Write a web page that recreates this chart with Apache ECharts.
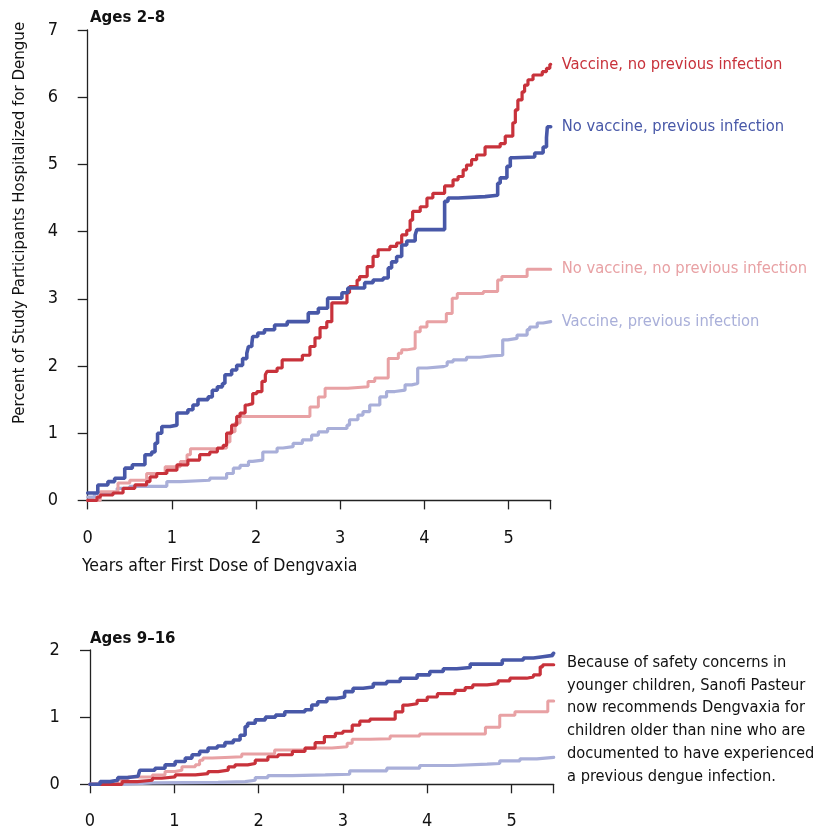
<!DOCTYPE html>
<html>
<head>
<meta charset="utf-8">
<script src="https://cdn.jsdelivr.net/npm/echarts@6/dist/echarts.min.js"></script>
<style>
  html, body { margin: 0; padding: 0; background: #fff; }
  #chart { width: 822px; height: 833px; }
</style>
</head>
<body>
<div id="chart"></div>
<script>
// Ages 2-8: [years, percent] where the step curve jumps
const young_vaccineNoPrev = [[0,0],[0.11,0.05],[0.15,0.08],[0.30,0.11],[0.42,0.18],[0.56,0.23],[0.70,0.28],[0.74,0.35],[0.82,0.40],[0.94,0.45],[1.06,0.53],[1.19,0.60],[1.33,0.68],[1.45,0.72],[1.54,0.78],[1.61,0.82],[1.65,1.00],[1.71,1.12],[1.77,1.25],[1.81,1.30],[1.87,1.42],[1.90,1.44],[1.96,1.59],[2.01,1.62],[2.07,1.77],[2.11,1.87],[2.13,1.92],[2.25,1.97],[2.31,2.09],[2.55,2.16],[2.64,2.29],[2.70,2.42],[2.76,2.57],[2.84,2.66],[2.90,2.94],[3.08,3.09],[3.11,3.18],[3.20,3.28],[3.23,3.33],[3.32,3.48],[3.39,3.63],[3.45,3.73],[3.59,3.78],[3.67,3.83],[3.73,3.95],[3.79,4.02],[3.83,4.17],[3.86,4.30],[3.95,4.37],[4.03,4.50],[4.10,4.57],[4.24,4.68],[4.34,4.77],[4.40,4.82],[4.46,4.92],[4.50,4.99],[4.56,5.07],[4.62,5.14],[4.72,5.26],[4.90,5.31],[4.96,5.42],[5.05,5.62],[5.08,5.81],[5.11,5.96],[5.16,6.08],[5.19,6.18],[5.23,6.26],[5.29,6.33],[5.40,6.38],[5.45,6.43],[5.49,6.49]];
const young_noVaccinePrev = [[0,0.11],[0.12,0.23],[0.24,0.28],[0.32,0.33],[0.44,0.48],[0.53,0.53],[0.68,0.68],[0.76,0.72],[0.80,0.85],[0.83,1.00],[0.88,1.10],[0.98,1.12],[1.06,1.30],[1.19,1.35],[1.25,1.42],[1.31,1.50],[1.43,1.54],[1.48,1.64],[1.54,1.69],[1.60,1.74],[1.63,1.87],[1.71,1.94],[1.77,2.01],[1.84,2.11],[1.89,2.19],[1.91,2.29],[1.95,2.34],[1.96,2.44],[2.02,2.49],[2.10,2.54],[2.22,2.61],[2.37,2.66],[2.62,2.79],[2.74,2.86],[2.85,3.01],[3.02,3.09],[3.09,3.16],[3.29,3.24],[3.39,3.28],[3.51,3.31],[3.57,3.46],[3.61,3.55],[3.67,3.63],[3.73,3.80],[3.79,3.86],[3.89,3.95],[3.91,4.03],[4.24,4.45],[4.28,4.50],[4.40,4.52],[4.72,4.54],[4.87,4.72],[4.90,4.80],[4.98,4.97],[5.02,5.10],[5.07,5.11],[5.31,5.17],[5.41,5.26],[5.45,5.40],[5.46,5.56]];
const young_noVaccineNoPrev = [[0,0],[0.15,0.13],[0.36,0.26],[0.50,0.30],[0.70,0.40],[0.92,0.50],[1.10,0.58],[1.18,0.68],[1.22,0.77],[1.54,0.78],[1.65,0.87],[1.69,1.02],[1.75,1.15],[1.81,1.25],[2.64,1.39],[2.74,1.54],[2.82,1.67],[3.09,1.69],[3.33,1.77],[3.41,1.82],[3.57,2.11],[3.69,2.19],[3.73,2.24],[3.79,2.26],[3.89,2.51],[3.95,2.58],[4.03,2.66],[4.26,2.78],[4.33,3.01],[4.39,3.08],[4.70,3.11],[4.87,3.28],[4.92,3.33],[5.22,3.44]];
const young_vaccinePrev = [[0,0.05],[0.08,0.10],[0.20,0.12],[0.35,0.18],[0.50,0.21],[0.94,0.28],[1.10,0.30],[1.45,0.33],[1.65,0.40],[1.73,0.48],[1.81,0.52],[1.91,0.58],[1.96,0.60],[2.08,0.72],[2.25,0.78],[2.32,0.80],[2.44,0.85],[2.55,0.90],[2.66,0.97],[2.74,1.02],[2.85,1.07],[3.08,1.12],[3.11,1.20],[3.21,1.27],[3.27,1.32],[3.35,1.42],[3.47,1.54],[3.55,1.62],[3.65,1.64],[3.77,1.72],[3.85,1.74],[3.92,1.97],[4.03,1.99],[4.22,2.01],[4.27,2.06],[4.34,2.09],[4.50,2.13],[4.66,2.15],[4.80,2.16],[4.93,2.39],[4.99,2.41],[5.10,2.46],[5.22,2.54],[5.25,2.58],[5.34,2.64],[5.41,2.66]];

// Ages 9-16
const older_vaccineNoPrev = [[0,0],[0.38,0.04],[0.56,0.06],[0.74,0.09],[0.85,0.11],[1.01,0.14],[1.25,0.16],[1.40,0.19],[1.52,0.21],[1.64,0.26],[1.72,0.29],[1.87,0.31],[1.96,0.36],[2.11,0.41],[2.23,0.44],[2.40,0.49],[2.55,0.54],[2.67,0.62],[2.78,0.71],[2.91,0.76],[3.00,0.79],[3.11,0.88],[3.20,0.94],[3.32,0.97],[3.62,1.08],[3.71,1.18],[3.77,1.20],[3.88,1.25],[4.00,1.30],[4.12,1.35],[4.33,1.40],[4.45,1.44],[4.54,1.48],[4.71,1.50],[4.84,1.54],[4.98,1.58],[5.18,1.60],[5.26,1.63],[5.34,1.75],[5.37,1.78]];
const older_noVaccinePrev = [[0,0],[0.12,0.04],[0.24,0.06],[0.33,0.10],[0.45,0.12],[0.57,0.14],[0.59,0.21],[0.77,0.24],[0.89,0.29],[1.01,0.34],[1.13,0.39],[1.21,0.44],[1.30,0.49],[1.40,0.54],[1.51,0.57],[1.60,0.62],[1.70,0.66],[1.78,0.73],[1.84,0.86],[1.87,0.91],[1.96,0.96],[2.08,1.00],[2.20,1.03],[2.31,1.08],[2.55,1.11],[2.63,1.18],[2.70,1.23],[2.81,1.28],[2.93,1.30],[3.02,1.38],[3.12,1.43],[3.24,1.45],[3.36,1.50],[3.52,1.53],[3.68,1.58],[3.88,1.63],[4.03,1.68],[4.19,1.72],[4.35,1.74],[4.51,1.79],[4.89,1.85],[5.14,1.88],[5.26,1.90],[5.37,1.92],[5.49,1.95]];
const older_noVaccineNoPrev = [[0,0],[0.33,0.07],[0.45,0.11],[0.74,0.14],[0.89,0.19],[1.01,0.21],[1.09,0.26],[1.25,0.29],[1.30,0.36],[1.34,0.39],[1.45,0.40],[1.60,0.41],[1.80,0.45],[2.19,0.51],[2.55,0.54],[2.87,0.56],[3.05,0.61],[3.11,0.67],[3.32,0.68],[3.56,0.72],[3.91,0.75],[4.69,0.85],[4.86,1.03],[5.04,1.08],[5.43,1.24]];
const older_vaccinePrev = [[0,0],[0.38,0.02],[0.74,0.03],[1.52,0.04],[1.84,0.06],[1.96,0.10],[2.11,0.13],[2.40,0.14],[2.79,0.15],[3.08,0.20],[3.52,0.24],[3.91,0.28],[4.31,0.30],[4.71,0.31],[4.86,0.35],[5.10,0.38],[5.30,0.40]];

const X_MAX = 5.5;
const FONT = "'Liberation Sans Narrow', 'DejaVu Sans Condensed', 'Noto Sans', sans-serif";

const RED = '#c8323b';
const BLUE = '#4858a8';
const PINK = '#e8a1a4';
const LBLUE = '#a9afd9';

// carry the last value to the end of the follow-up
const toEnd = pts => pts.concat([[X_MAX, pts[pts.length - 1][1]]]);

const chart = echarts.init(document.getElementById('chart'));

const axisStyle = { lineStyle: { color: '#222', width: 1.3 } };

const xAxisBase = {
  type: 'value',
  min: 0,
  max: X_MAX,
  interval: 1,
  axisLine: axisStyle,
  axisTick: { show: true, inside: false, length: 9, lineStyle: { color: '#222', width: 1.3 } },
  axisLabel: { fontSize: 18, color: '#111', fontFamily: FONT, formatter: v => (Number.isInteger(v) ? v : '') },
  splitLine: { show: false }
};

const yAxisBase = {
  type: 'value',
  min: 0,
  interval: 1,
  axisLine: { show: true, lineStyle: { color: '#222', width: 1.3 } },
  axisTick: { show: true, inside: false, length: 10, lineStyle: { color: '#222', width: 1.3 } },
  axisLabel: { fontSize: 18, color: '#111', fontFamily: FONT, margin: 17 },
  splitLine: { show: false }
};

const makeSeries = (name, data, color, width, gridIdx, withLabel) => ({
  name: name,
  type: 'line',
  step: 'end',
  xAxisIndex: gridIdx,
  yAxisIndex: gridIdx,
  data: toEnd(data),
  showSymbol: false,
  lineStyle: { color: color, width: width, cap: 'round' },
  itemStyle: { color: color },
  endLabel: withLabel ? {
    show: true,
    formatter: '{a}',
    color: color,
    fontSize: 16.4,
    fontFamily: FONT,
    distance: 11
  } : { show: false }
});

const option = {
  animation: false,
  grid: [
    { left: 87.7, top: 30, width: 463, height: 470.4 },
    { left: 90, top: 650, width: 463.7, height: 134.3 }
  ],
  xAxis: [
    Object.assign({}, xAxisBase, { gridIndex: 0, offset: 13, axisLabel: Object.assign({}, xAxisBase.axisLabel, { margin: 16 }) }),
    Object.assign({}, xAxisBase, { gridIndex: 1, offset: 13, axisLabel: Object.assign({}, xAxisBase.axisLabel, { margin: 15 }) })
  ],
  yAxis: [
    Object.assign({}, yAxisBase, { gridIndex: 0, max: 7, offset: 12.7 }),
    Object.assign({}, yAxisBase, { gridIndex: 1, max: 2, offset: 13.3 })
  ],
  series: [
    makeSeries('Vaccine, previous infection', young_vaccinePrev, LBLUE, 3.2, 0, true),
    makeSeries('No vaccine, no previous infection', young_noVaccineNoPrev, PINK, 3, 0, true),
    makeSeries('Vaccine, no previous infection', young_vaccineNoPrev, RED, 3.2, 0, true),
    makeSeries('No vaccine, previous infection', young_noVaccinePrev, BLUE, 3.6, 0, true),
    makeSeries('Vaccine, previous infection', older_vaccinePrev, LBLUE, 3.2, 1, false),
    makeSeries('No vaccine, no previous infection', older_noVaccineNoPrev, PINK, 3, 1, false),
    makeSeries('Vaccine, no previous infection', older_vaccineNoPrev, RED, 3.2, 1, false),
    makeSeries('No vaccine, previous infection', older_noVaccinePrev, BLUE, 3.6, 1, false)
  ],
  graphic: [
    {
      type: 'text', left: 90, top: 9,
      style: { text: 'Ages 2–8', font: 'bold 16.7px ' + FONT, fill: '#111' }
    },
    {
      type: 'text', left: 90, top: 630,
      style: { text: 'Ages 9–16', font: 'bold 16.7px ' + FONT, fill: '#111' }
    },
    {
      type: 'text', x: 20, y: 223, rotation: Math.PI / 2,
      style: {
        text: 'Percent of Study Participants Hospitalized for Dengue',
        font: '16.7px ' + FONT, fill: '#111', align: 'center', verticalAlign: 'middle'
      }
    },
    {
      type: 'text', left: 82, top: 557,
      style: { text: 'Years after First Dose of Dengvaxia', font: '17.5px ' + FONT, fill: '#111' }
    },
    {
      type: 'text', left: 567, top: 651,
      style: {
        text: 'Because of safety concerns in\nyounger children, Sanofi Pasteur\nnow recommends Dengvaxia for\nchildren older than nine who are\ndocumented to have experienced\na previous dengue infection.',
        font: '16.3px ' + FONT, fill: '#111', lineHeight: 22.9
      }
    }
  ]
};

chart.setOption(option);
</script>
</body>
</html>
